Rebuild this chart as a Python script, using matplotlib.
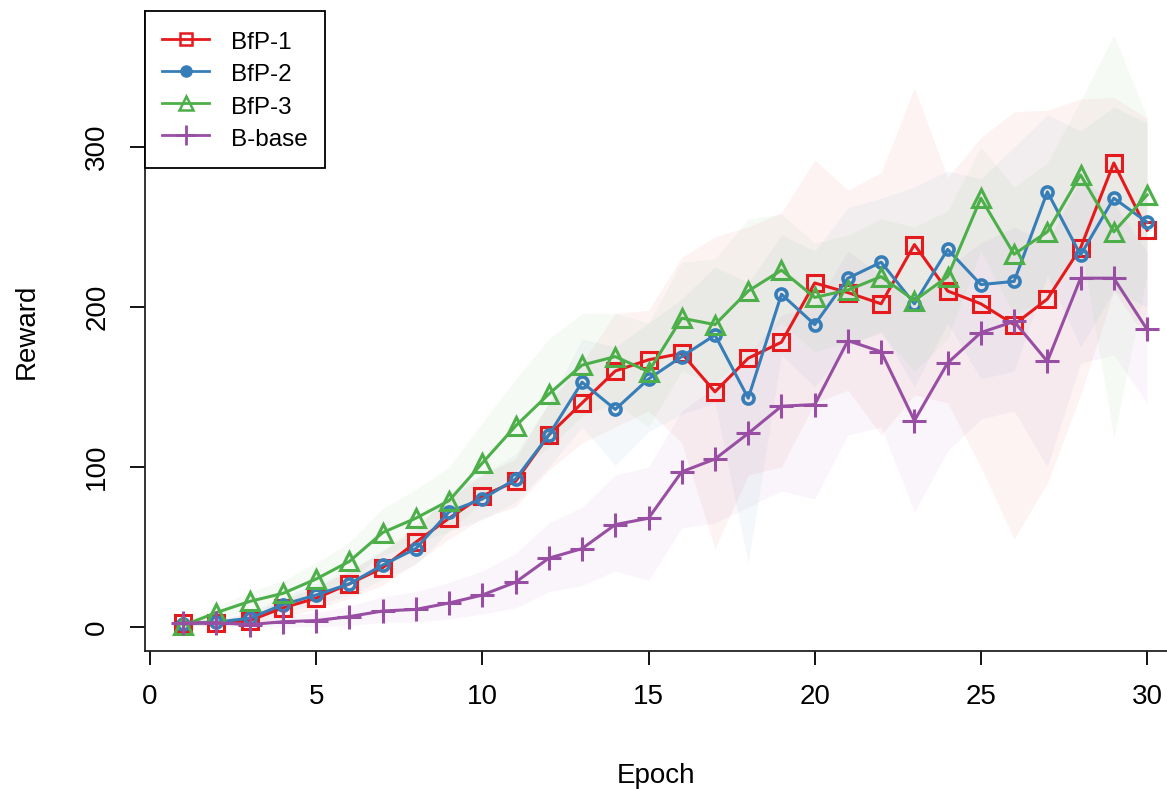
import matplotlib.pyplot as plt
import numpy as np
from matplotlib.lines import Line2D

plt.rcParams['font.family'] = ['Liberation Sans', 'DejaVu Sans']

epochs = np.arange(1, 31)

bfp1 = [2.5, 2.5, 4, 12, 18, 27, 37, 53, 68, 82, 91, 120, 140, 160, 167,
        171, 147, 168, 178, 215, 209, 202, 239, 210, 202, 189, 205, 237, 290, 248]
bfp1_hi = [4, 5, 8, 17, 25, 35, 47, 64, 80, 95, 105, 140, 165, 196, 198,
           231, 244, 250, 259, 292, 273, 284, 337, 281, 306, 322, 323, 330, 331, 318]
bfp1_lo = [1, 1, 1, 6, 11, 18, 26, 40, 55, 68, 75, 98, 115, 125, 135,
           115, 49, 95, 100, 140, 148, 120, 145, 140, 100, 55, 90, 145, 210, 180]

bfp2 = [2, 3, 5.5, 14, 20, 27, 38.7, 49, 72, 80, 92.5, 120, 153, 136, 155,
        169, 182.5, 143, 208, 189, 218, 228, 202, 236, 214, 216, 272, 232.5, 268, 253]
bfp2_hi = [4, 5, 9, 19, 27, 35, 48, 60, 85, 95, 108, 140, 180, 175, 190,
           205, 225, 215, 245, 235, 262, 268, 275, 285, 280, 300, 320, 310, 325, 315]
bfp2_lo = [1, 1, 2, 9, 14, 20, 30, 39, 60, 67, 78, 100, 125, 101, 122,
           133, 140, 40, 170, 150, 175, 185, 150, 190, 155, 160, 220, 175, 210, 200]

bfp3 = [1, 9, 16, 21, 30, 41, 59, 68, 79, 102.5, 125.6, 145.6, 163.7, 169, 159.6,
        193, 189, 210, 223, 206, 210.6, 219, 204, 219, 268, 233, 247, 282.5, 247, 270]
bfp3_hi = [3, 13, 22, 29, 40, 53, 74, 86, 100, 128, 155, 180, 196, 196, 190,
           228, 230, 255, 258, 240, 245, 255, 250, 260, 300, 275, 290, 329, 370, 319]
bfp3_lo = [0, 5, 10, 14, 21, 30, 45, 52, 60, 78, 98, 112, 132, 140, 125,
           160, 152, 170, 190, 172, 178, 183, 160, 180, 235, 195, 205, 240, 118, 220]

bbase = [2.5, 2.7, 1.5, 3.3, 4, 6.5, 10, 11, 15, 20, 28, 43, 49, 64, 68,
         97, 105, 121, 138, 139, 179, 172, 129, 165, 184, 191, 166, 218, 218, 186]
bbase_hi = [4, 5, 4, 7, 9, 13, 19, 22, 28, 35, 46, 65, 75, 95, 100,
            135, 150, 170, 195, 200, 235, 220, 200, 225, 240, 250, 240, 280, 265, 235]
bbase_lo = [1, 1, 0, 0, 0, 1, 3, 3, 5, 8, 12, 22, 26, 35, 29,
            62, 65, 75, 85, 80, 120, 125, 72, 110, 130, 135, 100, 165, 170, 140]

labels = ["BfP-1", "BfP-2", "BfP-3", "B-base"]
colors = ["#E41A1C", "#377EB8", "#4DAF4A", "#984EA3"]

fig = plt.figure(figsize=(11.67, 7.89), dpi=100)
ax = fig.add_axes([145 / 1167, 1 - 651 / 789, 1 - 145 / 1167, (651 - 11) / 789])

means = [bfp1, bfp2, bfp3, bbase]
his = [bfp1_hi, bfp2_hi, bfp3_hi, bbase_hi]
los = [bfp1_lo, bfp2_lo, bfp3_lo, bbase_lo]

for m, hi, lo, c in zip(means, his, los, colors):
    ax.fill_between(epochs, lo, hi, color=c, alpha=0.05, linewidth=0)

# series
ax.plot(epochs, bfp1, color=colors[0], lw=2.2, marker='s', ms=11,
        mfc='none', mec=colors[0], mew=2.2)
ax.plot(epochs, bfp2, color=colors[1], lw=2.2, marker='o', ms=8,
        mfc='none', mec=colors[1], mew=2.6)
ax.plot(epochs, bfp3, color=colors[2], lw=2.2, marker='^', ms=13,
        mfc='none', mec=colors[2], mew=2.2)
ax.plot(epochs, bbase, color=colors[3], lw=2.2, marker='+', ms=17,
        mew=2.2)

handles = [
    Line2D([], [], color=colors[0], lw=2, marker='s', ms=9, mfc='none', mew=1.8),
    Line2D([], [], color=colors[1], lw=2, marker='o', ms=8, mfc=colors[1], mew=1),
    Line2D([], [], color=colors[2], lw=2, marker='^', ms=10, mfc='none', mew=1.8),
    Line2D([], [], color=colors[3], lw=2, marker='+', ms=14, mew=2),
]
leg = ax.legend(handles, labels, loc='upper left', bbox_to_anchor=(0, 1),
                borderaxespad=0, fancybox=False, framealpha=1, edgecolor='black',
                fontsize=17.5, handlelength=1.95, handletextpad=0.9,
                handleheight=1.3, labelspacing=0.23, borderpad=0.7)
leg.get_frame().set_linewidth(1.3)

ax.set_xlim(-0.15, 30.6)
ax.set_ylim(-15, 385)

for s in ['top', 'right']:
    ax.spines[s].set_visible(False)
for s in ['left', 'bottom']:
    ax.spines[s].set_linewidth(1.3)
    ax.spines[s].set_color('#222222')

ax.set_xticks([0, 5, 10, 15, 20, 25, 30])
ax.set_yticks([0, 100, 200, 300])
ax.set_yticklabels(['0', '100', '200', '300'], rotation=90, va='center')
ax.tick_params(axis='x', length=10, width=1.3, labelsize=20, pad=14)
ax.tick_params(axis='y', length=11, width=1.3, labelsize=20, pad=14)

ax.set_xlabel("Epoch", fontsize=20, labelpad=38)
ax.set_ylabel("Reward", fontsize=20, labelpad=32)

fig.savefig("out.png", dpi=100)
